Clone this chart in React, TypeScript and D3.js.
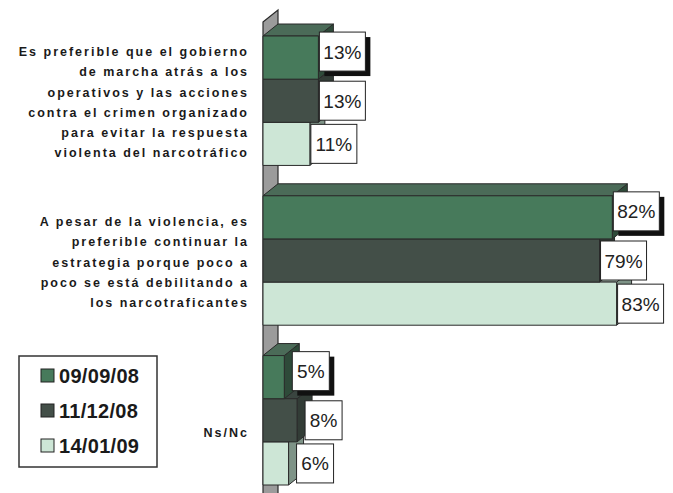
import React from "react";
import * as d3 from "d3";

const categories = ["c1", "c2", "c3"];
const categoryLines: string[][] = [
  [
    "Es preferible que el gobierno",
    "de marcha atrás a los",
    "operativos y las acciones",
    "contra el crimen organizado",
    "para evitar la respuesta",
    "violenta del narcotráfico",
  ],
  [
    "A pesar de la violencia, es",
    "preferible continuar la",
    "estrategia porque poco a",
    "poco se está debilitando a",
    "los narcotraficantes",
  ],
  ["Ns/Nc"],
];
const seriesNames = ["09/09/08", "11/12/08", "14/01/09"];
const values: number[][] = [
  [13, 82, 5],
  [13, 79, 8],
  [11, 83, 6],
];
const fronts = ["#477a5b", "#434f48", "#cde6d6"];
const tops = ["#4b6b58", "#3a4540", "#a9bdb0"];
const sides = ["#2e4a39", "#323c36", "#7e9387"];

const W = 673;
const H = 493;
const DX = 15;
const DY = -12;
const FONT = "'Liberation Sans', Arial, Helvetica, sans-serif";

export default function App() {
  const x = d3.scaleLinear().domain([0, 100]).range([263, 689]);
  const y = d3
    .scaleBand<string>()
    .domain(categories)
    .range([36, 485])
    .paddingInner(0.19)
    .paddingOuter(0);
  const ys = d3
    .scaleBand<number>()
    .domain(seriesNames.map((_, i) => i))
    .range([0, y.bandwidth()]);
  const x0 = x(0);

  const bars: React.ReactNode[] = [];
  const labels: React.ReactNode[] = [];
  categories.forEach((c, ci) => {
    const gy = y(c)!;
    for (let si = seriesNames.length - 1; si >= 0; si--) {
      const v = values[si][ci];
      const y0 = gy + ys(si)!;
      const y1 = y0 + ys.bandwidth();
      const x1 = x(v);
      bars.push(
        <g key={`b${ci}-${si}`} stroke="#2a2a2a" strokeWidth={1} strokeLinejoin="round">
          <polygon
            points={`${x1},${y0} ${x1 + DX},${y0 + DY} ${x1 + DX},${y1 + DY} ${x1},${y1}`}
            fill={sides[si]}
          />
          <polygon
            points={`${x0},${y0} ${x0 + DX},${y0 + DY} ${x1 + DX},${y0 + DY} ${x1},${y0}`}
            fill={tops[si]}
          />
          <rect x={x0} y={y0} width={x1 - x0} height={y1 - y0} fill={fronts[si]} />
        </g>
      );
      const txt = `${v}%`;
      const bw = v >= 10 ? 46 : 37;
      const bh = 39;
      const lx = x1 + (v < 10 ? 8 : 1);
      const cy = (y0 + y1) / 2 + (si === 0 ? -6 : 0);
      labels.push(
        <g key={`l${ci}-${si}`}>
          {si === 0 && (
            <rect x={lx + 5} y={cy - bh / 2 + 5} width={bw} height={bh} fill="#111" />
          )}
          <rect
            x={lx}
            y={cy - bh / 2}
            width={bw}
            height={bh}
            fill="#fff"
            stroke="#222"
            strokeWidth={1}
          />
          <text
            x={lx + bw / 2}
            y={cy + 7}
            textAnchor="middle"
            fontFamily={FONT}
            fontSize={19}
            fill="#222"
          >
            {txt}
          </text>
        </g>
      );
    }
  });

  const lineH = 20.3;

  return (
    <svg
      width={W}
      height={H}
      style={{ position: "absolute", left: 0, top: 0, background: "#fff" }}
    >
      {/* wall */}
      <polygon
        points={`${x0},22 ${x0 + DX},10 ${x0 + DX},${H + 20} ${x0},${H + 20}`}
        fill="#9b9b9b"
        stroke="#2a2a2a"
        strokeWidth={1.2}
      />
      {bars}
      {labels}
      {/* category labels */}
      {categories.map((c, ci) => {
        const lines = categoryLines[ci];
        const cy = y(c)! + y.bandwidth() / 2 + (lines.length === 1 ? 12 : 1.5);
        const startY = cy - ((lines.length - 1) * lineH) / 2;
        return (
          <text
            key={c}
            textAnchor="end"
            fontFamily={FONT}
            fontWeight="bold"
            fontSize={12.5}
            letterSpacing={2}
            fill="#1a1a1a"
          >
            {lines.map((ln, li) => (
              <tspan key={li} x={249} y={startY + li * lineH + 4.5}>
                {ln}
              </tspan>
            ))}
          </text>
        );
      })}
      {/* legend */}
      <rect x={19} y={356} width={138} height={111} fill="#fff" stroke="#333" strokeWidth={1.5} />
      {seriesNames.map((s, si) => {
        const cy = 376 + si * 35;
        return (
          <g key={s}>
            <rect x={41} y={cy - 7} width={13} height={13} fill={fronts[si]} stroke="#222" strokeWidth={1} />
            <text
              x={59}
              y={cy + 7}
              fontFamily={FONT}
              fontWeight="bold"
              fontSize={20}
              letterSpacing={0.3}
              fill="#1a1a1a"
            >
              {s}
            </text>
          </g>
        );
      })}
    </svg>
  );
}
